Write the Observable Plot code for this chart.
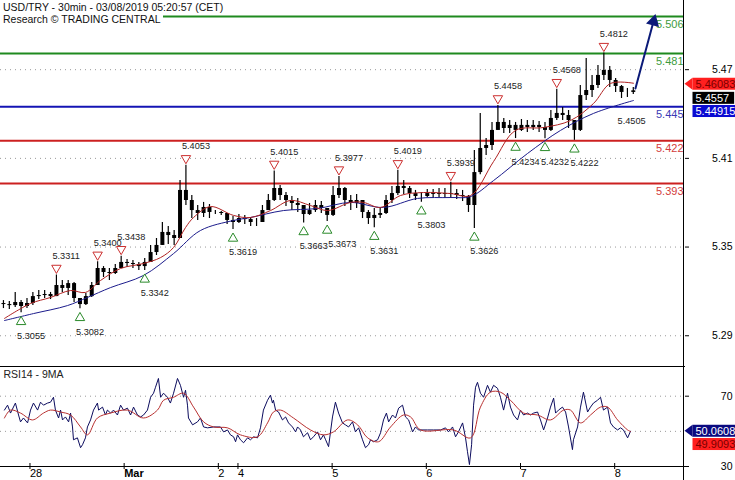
<!DOCTYPE html>
<html><head><meta charset="utf-8">
<script src="https://cdn.jsdelivr.net/npm/d3@7"></script>
<script src="https://cdn.jsdelivr.net/npm/@observablehq/plot@0.6"></script>
<style>
body{margin:0;background:#fff;}
#wrap{position:relative;width:735px;height:480px;overflow:hidden;background:#fff;font-family:"Liberation Sans",Arial,sans-serif;}
#top,#bot{position:absolute;left:0;}
#top{top:0}
#bot{top:365px}
#title{position:absolute;left:0;top:1px;font-size:10.5px;line-height:12px;color:#111;}
#title span{display:block;width:fit-content;background:#fff;padding:0 2px 0 3px;}
#vline{position:absolute;left:683px;top:0;width:1px;height:480px;background:#000;}
</style></head><body>
<div id="wrap"><div id="top"></div><div id="bot"></div><div id="vline"></div>
<div id="title"><span>USD/TRY - 30min - 03/08/2019 05:20:57 (CET)</span><span>Research © TRADING CENTRAL</span></div></div>
<script>
// ---- price candles (each candle = 3 half-hour bars) ----
const closes = [5.3111,5.3104,5.3125,5.3098,5.3118,5.3165,5.3172,5.3179,5.3165,5.3240,
 5.3220,5.3253,5.3152,5.3111,5.3165,5.3240,5.3355,5.3328,5.3321,5.3355,
 5.3396,5.3389,5.3382,5.3368,5.3396,5.3463,5.3511,5.3599,5.3578,5.3558,
 5.3883,5.3815,5.3747,5.3727,5.3768,5.3734,5.3734,5.3727,5.3680,5.3666,
 5.3693,5.3686,5.3666,5.3666,5.3747,5.3815,5.3896,5.3849,5.3815,5.3795,
 5.3781,5.3720,5.3747,5.3781,5.3761,5.3714,5.3849,5.3896,5.3815,5.3795,
 5.3815,5.3734,5.3693,5.3714,5.3727,5.3815,5.3862,5.3910,5.3896,5.3862,
 5.3842,5.3842,5.3862,5.3856,5.3862,5.3856,5.3862,5.3849,5.3842,5.3781,
 5.4004,5.4167,5.4187,5.4289,5.4343,5.4302,5.4323,5.4289,5.4323,5.4309,
 5.4323,5.4309,5.4289,5.4370,5.4404,5.4390,5.4356,5.4289,5.4525,5.4559,
 5.4593,5.4661,5.4695,5.4627,5.4586,5.4546,5.4546,5.4557];
const highs = [5.3138,5.3132,5.3193,5.3138,5.3152,5.3193,5.3206,5.3206,5.3193,5.3311,
 5.3274,5.3274,5.3260,5.3152,5.3186,5.3260,5.3400,5.3368,5.3355,5.3382,
 5.3438,5.3416,5.3409,5.3396,5.3423,5.3511,5.3558,5.3666,5.3639,5.3612,
 5.3950,5.4053,5.3849,5.3781,5.3802,5.3788,5.3747,5.3741,5.3727,5.3707,
 5.3720,5.3714,5.3700,5.3693,5.3781,5.3856,5.4015,5.3917,5.3869,5.3842,
 5.3829,5.3781,5.3795,5.3815,5.3808,5.3761,5.3910,5.3977,5.3903,5.3849,
 5.3856,5.3815,5.3747,5.3761,5.3768,5.3849,5.3910,5.4019,5.3950,5.3910,
 5.3883,5.3869,5.3889,5.3889,5.3896,5.3896,5.3939,5.3889,5.3883,5.3849,
 5.4153,5.4404,5.4235,5.4343,5.4458,5.4370,5.4356,5.4343,5.4363,5.4356,
 5.4356,5.4350,5.4343,5.4424,5.4568,5.4444,5.4424,5.4356,5.4593,5.4776,
 5.4661,5.4728,5.4812,5.4722,5.4640,5.4593,5.4573,5.4580];
const lows = [5.3084,5.3077,5.3091,5.3055,5.3084,5.3104,5.3145,5.3152,5.3145,5.3165,
 5.3193,5.3172,5.3125,5.3082,5.3104,5.3159,5.3240,5.3294,5.3274,5.3314,
 5.3355,5.3362,5.3355,5.3341,5.3342,5.3396,5.3443,5.3511,5.3517,5.3511,
 5.3558,5.3781,5.3693,5.3680,5.3700,5.3693,5.3720,5.3714,5.3653,5.3619,
 5.3659,5.3653,5.3639,5.3639,5.3666,5.3747,5.3808,5.3815,5.3774,5.3747,
 5.3734,5.3663,5.3714,5.3734,5.3727,5.3673,5.3707,5.3829,5.3774,5.3747,
 5.3761,5.3693,5.3653,5.3631,5.3693,5.3720,5.3795,5.3849,5.3856,5.3829,
 5.3815,5.3803,5.3835,5.3829,5.3835,5.3829,5.3829,5.3822,5.3808,5.3734,
 5.3626,5.3990,5.4120,5.4153,5.4289,5.4268,5.4268,5.4234,5.4282,5.4275,
 5.4289,5.4275,5.4232,5.4282,5.4356,5.4356,5.4302,5.4222,5.4282,5.4492,
 5.4512,5.4573,5.4627,5.4580,5.4546,5.4505,5.4512,5.4532];
const firstOpen = 5.3118;

// pivot annotations (candle numbers)
const pivotHighK = [9,16,20,31,46,57,67,76,84,94,102];
const pivotLowK = [3,13,24,39,51,55,63,71,80,87,92,97];
const pivotLowLabelOnlyK = [105];
const pivotLowTightK = [55]; // label set flush with its marker (sits right after the 5.3663 label)

// moving averages on price
const fastMABars = [2.0,15.3,25.5,35.7,43.3,51.0,61.2,72.9,81.6,88.2,94.3,98.4,107.0,118.8,127.4,137.6,147.8,158.0,166.7,178.4,185.0,193.7,203.9,215.6,229.4,239.6,251.3,262.5,276.8,290.5,302.2,310.9,322.6];
const fastMAValues = [5.3017,5.3118,5.3159,5.3206,5.3193,5.3274,5.3355,5.3389,5.3429,5.3497,5.3632,5.3700,5.3774,5.3714,5.3700,5.3747,5.3815,5.3781,5.3747,5.3802,5.3802,5.3768,5.3849,5.3869,5.3862,5.3849,5.4079,5.4289,5.4309,5.4356,5.4471,5.4607,5.46083];
const slowMABars = [2.0,16.8,34.1,44.3,56.1,72.9,88.2,101.9,118.8,127.4,144.2,161.6,178.4,195.2,212.5,229.4,239.6,251.3,268.6,285.4,302.2,322.6];
const slowMAValues = [5.3003,5.3050,5.3104,5.3159,5.3226,5.3308,5.3456,5.3612,5.3680,5.3700,5.3747,5.3761,5.3802,5.3768,5.3829,5.3835,5.3842,5.3950,5.4133,5.4289,5.4404,5.44915];

// support / resistance levels
const levelValues = [5.506, 5.481, 5.445, 5.422, 5.393];
const levelLabels = ["5.506","5.481","5.445","5.422","5.393"];
const levelColors = ["#1f8a1f","#1f8a1f","#1414b4","#cc2020","#cc2020"];
const levelTextColors = ["#3d9b3d","#3d9b3d","#3a3ab4","#d33c3c","#d33c3c"];

// forecast arrow
const forecastBars = [323.6, 332.8];
const forecastValues = [5.4573, 5.5026];

// last values
const lastPrice = 5.4557;
const lastFastMA = 5.46083;
const lastSlowMA = 5.44915;

// RSI
const rsi = [[2.0,62.1],[3.6,64.9],[5.1,60.4],[7.6,66.1],[9.2,59.3],[10.2,55.4],[11.7,57.6],[13.8,54.8],[15.3,62.1],[16.8,66.1],[18.9,62.1],[20.4,66.6],[21.9,64.9],[24.0,66.1],[25.5,66.6],[27.0,69.4],[28.0,62.1],[29.6,57.6],[30.6,62.1],[31.6,56.5],[33.1,58.2],[34.7,55.4],[35.7,60.4],[36.7,52.5],[37.2,45.2],[39.2,46.3],[40.8,40.7],[41.8,42.4],[43.3,46.3],[44.3,52.5],[45.9,56.5],[47.4,62.1],[49.4,66.1],[50.0,62.1],[52.0,63.8],[53.5,59.3],[54.5,62.1],[56.1,60.4],[57.6,62.1],[59.6,59.3],[61.2,64.9],[62.7,62.1],[64.7,63.2],[66.3,59.3],[67.8,63.8],[69.8,59.3],[71.4,58.2],[72.9,59.3],[74.9,62.1],[76.5,69.4],[78.0,71.7],[79.0,75.1],[80.5,80.1],[81.6,69.4],[83.1,71.7],[85.1,69.4],[86.6,66.1],[88.2,71.7],[90.2,80.1],[91.7,76.2],[93.3,69.4],[94.3,73.4],[95.3,64.9],[95.8,57.6],[97.9,53.7],[100.4,55.4],[101.9,57.6],[103.5,52.5],[105.5,52.0],[108.6,52.5],[112.1,52.5],[113.7,49.7],[115.7,50.8],[117.2,48.0],[118.8,46.9],[119.8,44.1],[120.8,48.0],[122.3,45.2],[123.9,43.5],[125.9,46.3],[127.4,45.2],[129.0,46.9],[131.0,46.3],[132.5,52.0],[134.0,62.1],[136.1,67.7],[137.6,70.6],[138.6,66.1],[139.1,67.7],[140.2,62.1],[141.7,61.0],[143.7,56.5],[145.3,58.2],[146.8,54.8],[148.8,52.5],[150.4,49.7],[151.4,52.5],[152.9,50.8],[154.4,46.9],[156.5,49.2],[158.0,45.2],[159.5,46.9],[161.6,49.7],[163.1,45.2],[164.6,48.0],[165.7,45.2],[167.2,41.3],[169.2,58.2],[170.7,66.6],[172.3,60.4],[174.3,54.8],[175.8,53.7],[177.4,52.5],[179.4,55.4],[180.9,49.7],[182.5,52.0],[184.5,45.2],[186.0,40.7],[187.6,42.4],[188.6,45.2],[190.1,44.1],[192.2,45.2],[193.7,49.2],[195.2,56.5],[196.7,60.4],[197.8,55.4],[199.8,59.3],[201.3,57.6],[202.9,63.2],[204.9,64.9],[206.4,58.2],[208.0,56.5],[210.0,49.7],[211.5,52.5],[213.0,50.8],[217.6,50.8],[220.7,50.8],[224.3,50.8],[226.8,52.0],[228.3,49.7],[230.4,52.5],[231.9,46.9],[233.4,49.7],[235.5,54.8],[237.0,46.3],[238.0,38.4],[239.0,31.1],[240.1,42.4],[241.1,64.9],[242.1,75.1],[243.1,77.9],[244.6,71.7],[246.2,69.4],[248.2,76.2],[249.7,72.3],[251.3,76.2],[253.3,74.5],[254.8,69.4],[256.4,62.1],[258.4,71.7],[259.9,63.8],[261.5,59.3],[263.5,56.5],[265.0,62.1],[266.6,59.3],[268.6,60.4],[270.1,59.3],[271.7,60.4],[273.7,61.0],[275.2,56.5],[276.8,50.8],[278.8,57.6],[280.3,63.8],[281.9,68.9],[282.9,60.4],[284.4,62.1],[286.4,63.8],[288.0,61.0],[289.5,52.5],[291.5,39.6],[292.0,45.2],[294.1,52.5],[295.6,63.8],[297.1,72.3],[299.2,61.0],[300.7,63.8],[302.2,66.1],[304.3,67.7],[305.8,69.4],[307.3,62.1],[309.4,63.8],[310.9,54.8],[312.4,52.5],[314.5,50.8],[316.0,52.0],[317.5,50.8],[319.6,46.3],[321.1,50.0608]];
const rsiMA = [[2.0,57.6],[5.1,62.1],[10.2,60.4],[16.3,56.5],[21.9,60.4],[25.5,62.1],[30.6,61.0],[35.7,59.3],[40.8,52.5],[44.3,48.0],[49.4,57.6],[56.1,60.4],[64.7,62.1],[72.9,57.6],[80.0,62.1],[83.1,67.7],[88.2,69.4],[93.3,71.7],[98.4,63.8],[103.5,55.4],[108.6,52.5],[115.7,52.0],[122.3,48.0],[131.0,46.9],[136.1,54.8],[139.1,61.0],[142.7,62.1],[149.3,57.6],[158.0,50.8],[164.6,48.0],[169.7,49.7],[176.9,56.5],[182.0,53.7],[187.1,46.3],[192.7,44.1],[198.8,52.5],[205.4,59.3],[209.0,58.2],[214.1,50.8],[230.9,50.8],[239.6,46.3],[244.6,63.8],[249.7,72.3],[254.8,72.3],[259.9,67.7],[266.6,60.4],[273.7,59.3],[280.3,56.5],[287.0,62.1],[290.5,62.1],[295.6,54.8],[300.7,59.3],[305.8,63.8],[309.4,63.8],[314.5,56.5],[319.6,50.8],[321.1,49.9093]];
const lastRsi = 50.0608;
const lastRsiMA = 49.9093;

// axes
const priceTicks = [5.29, 5.35, 5.41, 5.47];
const rsiTicks = [70, 30];
const rsiGrid = [70, 50];
const dayBars = [14, 62, 110, 120, 168, 216, 264, 312];
const dayLabels = ["28","Mar","2","4","5","6","7","8"];

// ---- build tables ----
const candles = closes.map((c, k) => ({bar: 1.5 + 3 * k, open: k ? closes[k - 1] : firstOpen, high: highs[k], low: lows[k], close: c}));
const lowPoint = k => ({bar: candles[k].bar, value: lows[k], label: lows[k].toFixed(4)});
const pivHigh = pivotHighK.map(k => ({bar: candles[k].bar, value: highs[k], label: highs[k].toFixed(4)}));
const pivLow = pivotLowK.map(lowPoint);
const pivLowLabels = pivotLowK.filter(k => !pivotLowTightK.includes(k)).concat(pivotLowLabelOnlyK).map(lowPoint);
const pivLowTight = pivotLowTightK.map(lowPoint);
const fastMA = fastMABars.map((b, i) => ({bar: b, price: fastMAValues[i]}));
const slowMA = slowMABars.map((b, i) => ({bar: b, price: slowMAValues[i]}));
const levels = levelValues.map((v, i) => ({value: v, label: levelLabels[i], color: levelColors[i], textColor: levelTextColors[i]}));
const forecast = forecastBars.map((b, i) => ({bar: b, price: forecastValues[i]}));
const dayLabelOf = new Map(dayBars.map((b, i) => [b, dayLabels[i]]));

const font = "'Liberation Sans', Arial, sans-serif";
const xDomain = [0, 348.6];

const topPlot = Plot.plot({
  width: 735, height: 366,
  marginLeft: 0, marginRight: 51, marginTop: 0, marginBottom: 0,
  x: {domain: xDomain, axis: null},
  y: {domain: [5.2692, 5.5168], axis: null},
  color: {type: "identity"},
  style: {fontFamily: font, fontSize: "10.5px", background: "transparent"},
  marks: [
    Plot.gridY(priceTicks, {stroke: "#9a9a9a", strokeOpacity: 1, strokeDasharray: "1,4"}),
    Plot.ruleY(levels, {y: "value", stroke: "color", strokeWidth: 2}),
    Plot.ruleX(candles, {x: "bar", y1: "low", y2: "high", stroke: "#000", strokeWidth: 1.2}),
    Plot.ruleX(candles, {x: "bar", y1: "open", y2: "close", stroke: "#000", strokeWidth: 4}),
    Plot.line(slowMA, {x: "bar", y: "price", stroke: "#1c1c8c", strokeWidth: 1, curve: "catmull-rom"}),
    Plot.line(fastMA, {x: "bar", y: "price", stroke: "#b02323", strokeWidth: 1, curve: "catmull-rom"}),
    Plot.text(levels, {y: "value", text: "label", frameAnchor: "right", textAnchor: "end", dx: -1, dy: 8, fill: "textColor", fontSize: 11}),
    Plot.dot(pivHigh, {x: "bar", y: "value", symbol: "triangle", r: 3.5, rotate: 180, stroke: "#cc3030", fill: "#fff", strokeWidth: 1, dy: -7}),
    Plot.text(pivHigh, {x: "bar", y: "value", text: "label", dy: -19, dx: -4, textAnchor: "start", fontSize: 9.2, fill: "#222"}),
    Plot.dot(pivLow, {x: "bar", y: "value", symbol: "triangle", r: 3.5, stroke: "#2a8a2a", fill: "#fff", strokeWidth: 1, dy: 9}),
    Plot.text(pivLowLabels, {x: "bar", y: "value", text: "label", dy: 23, dx: -4, textAnchor: "start", fontSize: 9.2, fill: "#222"}),
    Plot.text(pivLowTight, {x: "bar", y: "value", text: "label", dy: 23, dx: 1, textAnchor: "start", fontSize: 9.2, fill: "#222"}),
    Plot.line(forecast, {x: "bar", y: "price", stroke: "#0b1a78", strokeWidth: 2}),
    Plot.dot(forecast.slice(1), {x: "bar", y: "price", symbol: "triangle", r: 5, rotate: 15, fill: "#0b1a78", stroke: "none"}),
    Plot.axisY({anchor: "right", ticks: priceTicks, tickFormat: d => d.toFixed(2), tickSize: 4, tickPadding: 44, textAnchor: "end", fontSize: 10.5, label: null}),
    Plot.text([lastFastMA], {y: d => d, text: d => d.toFixed(5), frameAnchor: "right", textAnchor: "start", dx: 11, dy: 1, fill: "#7a0000", fontSize: 11, ariaDescription: "box-red"}),
    Plot.text([lastPrice], {y: d => d, text: d => d.toFixed(4), frameAnchor: "right", textAnchor: "start", dx: 11, dy: 7.5, fill: "#fff", fontSize: 11, ariaDescription: "box-black"}),
    Plot.text([lastSlowMA], {y: d => d, text: d => d.toFixed(5), frameAnchor: "right", textAnchor: "start", dx: 11, dy: 11, fill: "#fff", fontSize: 11, ariaDescription: "box-blue"})
  ]
});

const botPlot = Plot.plot({
  width: 735, height: 115,
  marginLeft: 0, marginRight: 51, marginTop: 1, marginBottom: 14,
  x: {domain: xDomain, axis: null},
  y: {domain: [30, 86.9], axis: null},
  style: {fontFamily: font, fontSize: "10.5px", background: "transparent"},
  marks: [
    Plot.gridY(rsiGrid, {stroke: "#9a9a9a", strokeOpacity: 1, strokeDasharray: "1,4"}),
    Plot.line(rsi, {x: d => d[0], y: d => d[1], stroke: "#0c0c5e", strokeWidth: 1}),
    Plot.line(rsiMA, {x: d => d[0], y: d => d[1], stroke: "#b83030", strokeWidth: 1, curve: "catmull-rom"}),
    Plot.text(["RSI14 - 9MA"], {frameAnchor: "top-left", dx: 3, dy: 4, lineAnchor: "top", textAnchor: "start", fontSize: 10.5, fill: "#222"}),
    Plot.frame({anchor: "top", stroke: "#000"}),
    Plot.frame({anchor: "bottom", stroke: "#000"}),
    Plot.axisY({anchor: "right", ticks: rsiTicks, tickSize: 4, tickPadding: 44, textAnchor: "end", fontSize: 10.5, label: null}),
    Plot.axisX({ticks: dayBars.filter(b => dayLabelOf.get(b) !== "Mar"), tickFormat: d => dayLabelOf.get(d), tickSize: 6, tickPadding: 0, textAnchor: "start", dx: 2, dy: -3, fontSize: 11, label: null}),
    Plot.axisX({ticks: dayBars.filter(b => dayLabelOf.get(b) === "Mar"), tickFormat: d => dayLabelOf.get(d), tickSize: 6, tickPadding: 0, textAnchor: "start", dx: 2, dy: -3, fontSize: 11, fontWeight: "bold", label: null}),
    Plot.text([lastRsi], {y: d => d, text: d => d.toFixed(4), frameAnchor: "right", textAnchor: "start", dx: 11, dy: 0, fill: "#fff", fontSize: 11, ariaDescription: "box-navy"}),
    Plot.text([lastRsiMA], {y: d => d, text: d => d.toFixed(4), frameAnchor: "right", textAnchor: "start", dx: 11, dy: 13, fill: "#7a0000", fontSize: 11, ariaDescription: "box-red2"})
  ]
});

document.getElementById("top").appendChild(topPlot);
document.getElementById("bot").appendChild(botPlot);

// value boxes behind the right-hand labels
const boxStyles = {"box-red": {bg: "#ff1f1f", pointer: true}, "box-red2": {bg: "#ff1f1f"}, "box-black": {bg: "#000"}, "box-blue": {bg: "#0a0ad2"}, "box-navy": {bg: "#0a0a80", pointer: true}};
const ns = "http://www.w3.org/2000/svg";
document.querySelectorAll("#wrap [aria-description]").forEach(g => {
  const s = boxStyles[g.getAttribute("aria-description")];
  if (!s) return;
  const texts = g.tagName.toLowerCase() === "text" ? [g] : Array.from(g.querySelectorAll("text"));
  texts.forEach(t => {
    const b = t.getBBox();
    const x0 = b.x - 3, y0 = b.y, h = b.height;
    const tr = t.getAttribute("transform");
    const parent = t.parentNode;
    const r = document.createElementNS(ns, "rect");
    r.setAttribute("x", x0); r.setAttribute("y", y0);
    r.setAttribute("width", b.width + 8); r.setAttribute("height", h);
    r.setAttribute("fill", s.bg);
    if (tr) r.setAttribute("transform", tr);
    parent.insertBefore(r, t);
    if (s.pointer) {
      const p = document.createElementNS(ns, "polygon");
      p.setAttribute("points", `${x0},${y0} ${x0 - 8},${y0 + h / 2} ${x0},${y0 + h}`);
      p.setAttribute("fill", s.bg);
      if (tr) p.setAttribute("transform", tr);
      parent.insertBefore(p, t);
    }
  });
});
</script>
</body></html>
